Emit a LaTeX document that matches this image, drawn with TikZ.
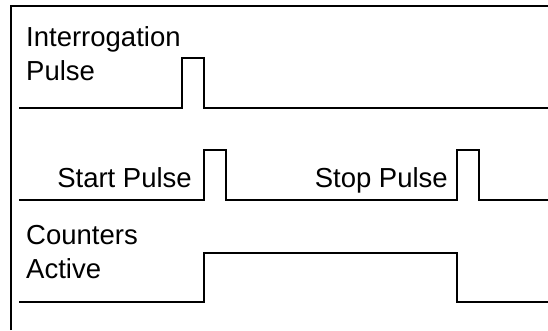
\documentclass[tikz,border=0pt]{standalone}
\usepackage{fontspec}
\setmainfont{Liberation Sans}
\begin{document}
\begin{tikzpicture}[x=1pt,y=-1pt,
  sig/.style={line width=1.6pt,black,line join=miter},
  frameline/.style={line width=2pt,black},
  lbl/.style={inner sep=0pt,font=\fontsize{27.5}{33}\selectfont}]
\useasboundingbox (0,0) rectangle (548,330);
\fill[white] (0,0) rectangle (548,330);
% frame
\draw[frameline] (11,330) -- (11,6) -- (548,6);
% labels
\node[lbl,anchor=base west] (int1) at (26,46) {Interrogation};
\node[lbl,anchor=base west] (int2) at (26,80) {Pulse};
\node[lbl,anchor=base east] (start) at (192,187) {Start Pulse};
\node[lbl,anchor=base east] (stop) at (448,187) {Stop Pulse};
\node[lbl,anchor=base west] (cnt1) at (26,244) {Counters};
\node[lbl,anchor=base west] (cnt2) at (26,278) {Active};
% waveforms
\draw[sig] (19,108) -- (182,108) -- (182,58) -- (204,58) -- (204,108) -- (548,108);
\draw[sig] (19,200) -- (204,200) -- (204,150) -- (226,150) -- (226,200)
  -- (457,200) -- (457,150) -- (479,150) -- (479,200) -- (548,200);
\draw[sig] (19,302) -- (204,302) -- (204,253) -- (457,253) -- (457,302) -- (548,302);
\end{tikzpicture}
\end{document}
